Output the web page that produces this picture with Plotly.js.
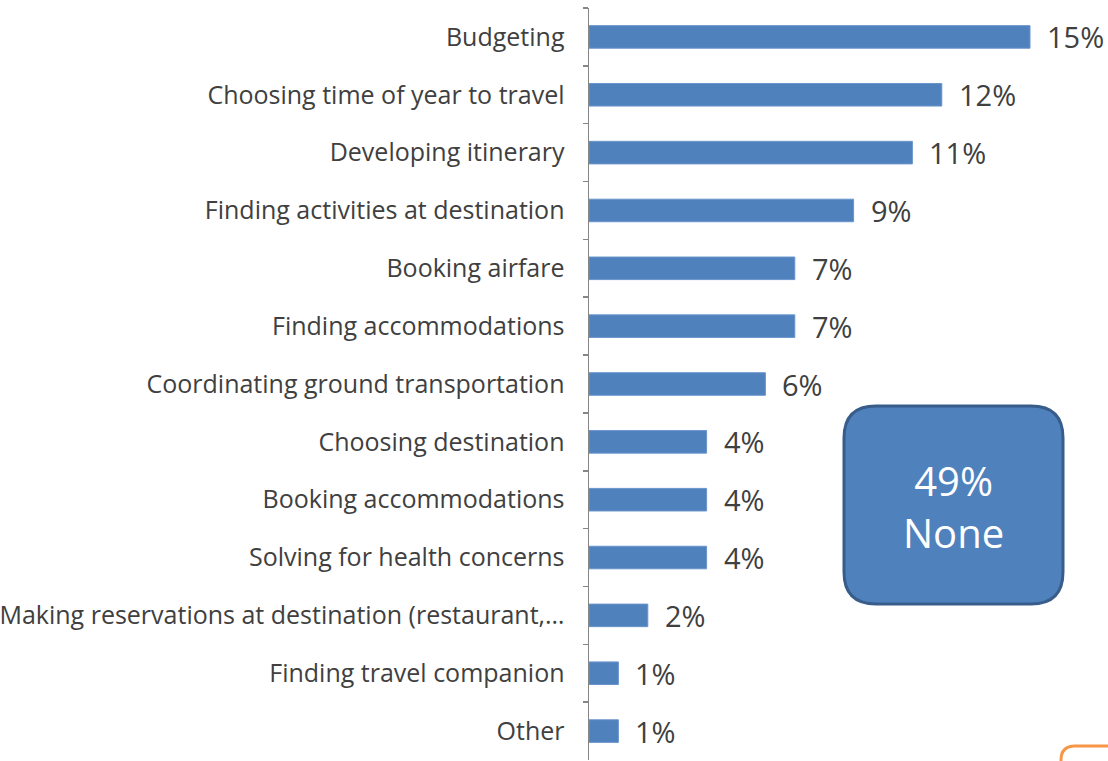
<!DOCTYPE html>
<html>
<head>
<meta charset="utf-8">
<script src="https://cdn.plot.ly/plotly-3.0.1.min.js"></script>
<style>
  body { margin: 0; background: #fff; }
  #plotDiv { width: 1108px; height: 761px; }
</style>
</head>
<body>
<div id="plotDiv"></div>
<script>
// survey answers, top to bottom
let categories = [
  "Budgeting",
  "Choosing time of year to travel",
  "Developing itinerary",
  "Finding activities at destination",
  "Booking airfare",
  "Finding accommodations",
  "Coordinating ground transportation",
  "Choosing destination",
  "Booking accommodations",
  "Solving for health concerns",
  "Making reservations at destination (restaurant,…",
  "Finding travel companion",
  "Other"
];
let values = [15, 12, 11, 9, 7, 7, 6, 4, 4, 4, 2, 1, 1];
let noneShare = 49;
let noneLabel = "None";

// page geometry (pixels)
let W = 1108, H = 761;
let mL = 589, mR = 0, mT = 8, mB = 1;
let plotW = W - mL - mR, plotH = H - mT - mB;

// pixel -> paper helpers for the callout shapes
function px(x) { return (x - mL) / plotW; }
function py(y) { return (H - mB - y) / plotH; }

function roundRect(x0, y0, x1, y1, r) {
  return "M " + px(x0 + r) + "," + py(y0) +
    " L " + px(x1 - r) + "," + py(y0) +
    " Q " + px(x1) + "," + py(y0) + " " + px(x1) + "," + py(y0 + r) +
    " L " + px(x1) + "," + py(y1 - r) +
    " Q " + px(x1) + "," + py(y1) + " " + px(x1 - r) + "," + py(y1) +
    " L " + px(x0 + r) + "," + py(y1) +
    " Q " + px(x0) + "," + py(y1) + " " + px(x0) + "," + py(y1 - r) +
    " L " + px(x0) + "," + py(y0 + r) +
    " Q " + px(x0) + "," + py(y0) + " " + px(x0 + r) + "," + py(y0) + " Z";
}

let data = [
  {
    type: "bar",
    orientation: "h",
    x: values,
    y: categories,
    width: 0.39,
    marker: { color: "#4F81BD", line: { color: "#6A95CC", width: 1 } },
    hoverinfo: "x+y"
  }
];

// value labels to the right of each bar
let annotations = values.map(function (v, i) {
  return {
    x: v, y: categories[i], xref: "x", yref: "y",
    text: v + "%", showarrow: false,
    xanchor: "left", yanchor: "middle", xshift: 15,
    font: { family: "Open Sans", size: 29, color: "#404040" }
  };
});

annotations.push({
  xref: "paper", yref: "paper",
  x: px(953), y: py(506),
  text: noneShare + "%<br>" + noneLabel,
  showarrow: false, align: "center",
  xanchor: "center", yanchor: "middle",
  font: { family: "Open Sans", size: 40, color: "#ffffff" }
});

let layout = {
  width: W,
  height: H,
  margin: { l: mL, r: mR, t: mT, b: mB, pad: 0 },
  paper_bgcolor: "#ffffff",
  plot_bgcolor: "#ffffff",
  showlegend: false,
  xaxis: {
    range: [0, plotW / 29.4],
    visible: false,
    fixedrange: true
  },
  yaxis: {
    type: "category",
    autorange: "reversed",
    showline: true,
    linecolor: "#868686",
    linewidth: 1.5,
    ticks: "outside",
    tickson: "boundaries",
    ticklen: 5,
    tickcolor: "#868686",
    tickwidth: 1.5,
    ticklabelstandoff: 18,
    showgrid: false,
    zeroline: false,
    tickfont: { family: "Open Sans", size: 25, color: "#404040" },
    fixedrange: true
  },
  annotations: annotations,
  shapes: [
    {
      type: "path", xref: "paper", yref: "paper", layer: "above",
      path: roundRect(844, 406, 1063, 604, 32),
      fillcolor: "#4F81BD",
      line: { color: "#385D8A", width: 3 }
    },
    {
      type: "path", xref: "paper", yref: "paper", layer: "above",
      path: roundRect(1061, 746, 1140, 800, 14),
      fillcolor: "rgba(0,0,0,0)",
      line: { color: "#F79646", width: 3 }
    }
  ]
};

Plotly.newPlot("plotDiv", data, layout, { displayModeBar: false, staticPlot: true });
</script>
</body>
</html>
